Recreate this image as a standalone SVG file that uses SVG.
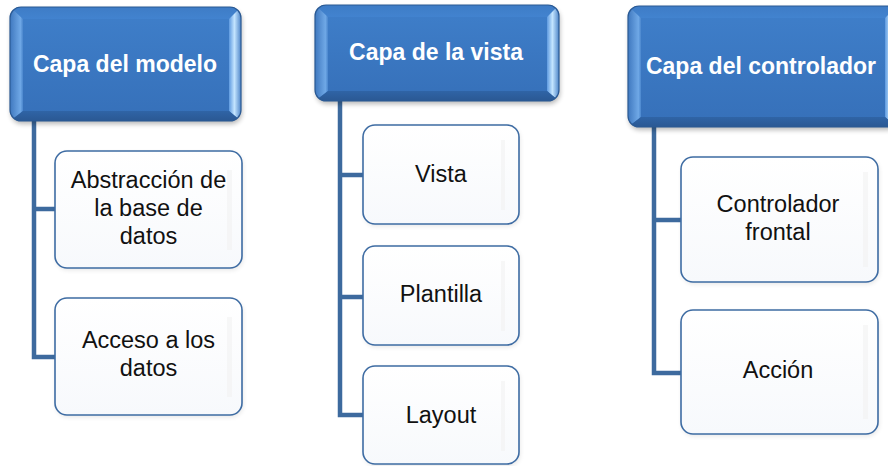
<svg xmlns="http://www.w3.org/2000/svg" width="888" height="466" viewBox="0 0 888 466">
  <defs>
    <linearGradient id="face" x1="0" y1="0" x2="0" y2="1">
      <stop offset="0" stop-color="#3f7fca"/>
      <stop offset="1" stop-color="#3670b9"/>
    </linearGradient>
    <linearGradient id="bvTop" x1="0" y1="0" x2="0" y2="1">
      <stop offset="0" stop-color="#3e7cc6"/>
      <stop offset="1" stop-color="#4283cf"/>
    </linearGradient>
    <linearGradient id="bvLeft" x1="0" y1="0" x2="1" y2="0">
      <stop offset="0" stop-color="#3f78bf"/>
      <stop offset="0.8" stop-color="#6fa8e6"/>
      <stop offset="1" stop-color="#4a86cd"/>
    </linearGradient>
    <linearGradient id="bvRight" x1="0" y1="0" x2="1" y2="0">
      <stop offset="0" stop-color="#5e9ae0"/>
      <stop offset="0.45" stop-color="#c4e5ff"/>
      <stop offset="1" stop-color="#4f86c9"/>
    </linearGradient>
    <linearGradient id="bvBottom" x1="0" y1="0" x2="0" y2="1">
      <stop offset="0" stop-color="#2f64a6"/>
      <stop offset="1" stop-color="#2a5893"/>
    </linearGradient>
    <linearGradient id="childFill" x1="0" y1="0" x2="0" y2="1">
      <stop offset="0" stop-color="#ffffff"/>
      <stop offset="1" stop-color="#f7f9fc"/>
    </linearGradient>
    <filter id="shadow" x="-10%" y="-10%" width="120%" height="130%">
      <feGaussianBlur stdDeviation="2.5"/>
    </filter>
    <clipPath id="c1"><rect x="10" y="7" width="231" height="114" rx="11"/></clipPath>
    <clipPath id="c2"><rect x="315" y="5" width="244" height="96" rx="11"/></clipPath>
    <clipPath id="c3"><rect x="628" y="6" width="269" height="121" rx="11"/></clipPath>
  </defs>
  <style>
    .hdr-shadow { fill: #000; opacity: 0.28; filter: url(#shadow); }
    .hdr-out { fill: none; stroke: #2b5a94; stroke-width: 1.2; }
    .hdr-text { font-family: "Liberation Sans", Arial, sans-serif; font-weight: bold; font-size: 23px; fill: #ffffff; text-anchor: middle; }
    .child-shadow { fill: #000; opacity: 0.1; filter: url(#shadow); }
    .child { fill: url(#childFill); stroke: #3e6ca3; stroke-width: 1.6; }
    .strip { fill: #f1f1f1; opacity: 0.6; }
    .child-text { font-family: "Liberation Sans", Arial, sans-serif; font-size: 23.5px; fill: #111111; text-anchor: middle; }
    .conn { fill: none; stroke: #3d6a9e; stroke-width: 4.5; stroke-linejoin: miter; }
  </style>

  <!-- connectors -->
  <g id="connectors">
    <path class="conn" d="M34,121 V357 H56 M34,209 H56"/>
    <path class="conn" d="M340,101 V415 H364 M340,175 H364 M340,297 H364"/>
    <path class="conn" d="M654,127 V373 H682 M654,220 H682"/>
  </g>

  <!-- header 1 -->
  <g id="header-modelo">
    <rect class="hdr-shadow" x="11" y="10" width="231" height="114" rx="11"/>
    <g clip-path="url(#c1)">
      <rect x="10" y="7" width="231" height="114" fill="url(#face)"/>
      <polygon points="10,7 241,7 229,19 23,19" fill="url(#bvTop)"/>
      <polygon points="10,7 23,19 23,111 10,121" fill="url(#bvLeft)"/>
      <polygon points="241,7 241,121 229,111 229,19" fill="url(#bvRight)"/>
      <polygon points="10,121 23,111 229,111 241,121" fill="url(#bvBottom)"/>
    </g>
    <rect class="hdr-out" x="10" y="7" width="231" height="114" rx="11"/>
    <text class="hdr-text" x="125" y="72">Capa del modelo</text>
  </g>

  <!-- header 2 -->
  <g id="header-vista">
    <rect class="hdr-shadow" x="316" y="8" width="244" height="96" rx="11"/>
    <g clip-path="url(#c2)">
      <rect x="315" y="5" width="244" height="96" fill="url(#face)"/>
      <polygon points="315,5 559,5 547,17 328,17" fill="url(#bvTop)"/>
      <polygon points="315,5 328,17 328,91 315,101" fill="url(#bvLeft)"/>
      <polygon points="559,5 559,101 547,91 547,17" fill="url(#bvRight)"/>
      <polygon points="315,101 328,91 547,91 559,101" fill="url(#bvBottom)"/>
    </g>
    <rect class="hdr-out" x="315" y="5" width="244" height="96" rx="11"/>
    <text class="hdr-text" x="436" y="60">Capa de la vista</text>
  </g>

  <!-- header 3 -->
  <g id="header-controlador">
    <rect class="hdr-shadow" x="629" y="9" width="269" height="121" rx="11"/>
    <g clip-path="url(#c3)">
      <rect x="628" y="6" width="269" height="121" fill="url(#face)"/>
      <polygon points="628,6 897,6 885,18 641,18" fill="url(#bvTop)"/>
      <polygon points="628,6 641,18 641,117 628,127" fill="url(#bvLeft)"/>
      <polygon points="897,6 897,127 885,117 885,18" fill="url(#bvRight)"/>
      <polygon points="628,127 641,117 885,117 897,127" fill="url(#bvBottom)"/>
    </g>
    <rect class="hdr-out" x="628" y="6" width="269" height="121" rx="11"/>
    <text class="hdr-text" x="761" y="74">Capa del controlador</text>
  </g>

  <!-- children: model -->
  <g id="node-abstraccion">
    <rect class="child-shadow" x="56" y="153" width="187" height="117" rx="12"/>
    <rect class="child" x="55" y="151" width="187" height="117" rx="12"/>
    <rect class="strip" x="227" y="170" width="5" height="80"/>
    <text class="child-text" x="148.5" y="188">Abstracción de</text>
    <text class="child-text" x="148.5" y="216">la base de</text>
    <text class="child-text" x="148.5" y="244">datos</text>
  </g>
  <g id="node-acceso">
    <rect class="child-shadow" x="56" y="300" width="187" height="117" rx="12"/>
    <rect class="child" x="55" y="298" width="187" height="117" rx="12"/>
    <rect class="strip" x="227" y="317" width="5" height="80"/>
    <text class="child-text" x="148.5" y="348">Acceso a los</text>
    <text class="child-text" x="148.5" y="376">datos</text>
  </g>

  <!-- children: view -->
  <g id="node-vista">
    <rect class="child-shadow" x="364" y="127" width="156" height="99" rx="12"/>
    <rect class="child" x="363" y="125" width="156" height="99" rx="12"/>
    <rect class="strip" x="501" y="140" width="4" height="70"/>
    <text class="child-text" x="441" y="182">Vista</text>
  </g>
  <g id="node-plantilla">
    <rect class="child-shadow" x="364" y="248" width="156" height="99" rx="12"/>
    <rect class="child" x="363" y="246" width="156" height="99" rx="12"/>
    <rect class="strip" x="501" y="261" width="4" height="70"/>
    <text class="child-text" x="441" y="302">Plantilla</text>
  </g>
  <g id="node-layout">
    <rect class="child-shadow" x="364" y="368" width="156" height="98" rx="12"/>
    <rect class="child" x="363" y="366" width="156" height="98" rx="12"/>
    <rect class="strip" x="501" y="381" width="4" height="70"/>
    <text class="child-text" x="441" y="423">Layout</text>
  </g>

  <!-- children: controller -->
  <g id="node-controlador-frontal">
    <rect class="child-shadow" x="682" y="159" width="197" height="125" rx="12"/>
    <rect class="child" x="681" y="157" width="197" height="125" rx="12"/>
    <rect class="strip" x="863" y="172" width="5" height="95"/>
    <text class="child-text" x="778" y="212">Controlador</text>
    <text class="child-text" x="778" y="240">frontal</text>
  </g>
  <g id="node-accion">
    <rect class="child-shadow" x="682" y="312" width="197" height="124" rx="12"/>
    <rect class="child" x="681" y="310" width="197" height="124" rx="12"/>
    <rect class="strip" x="863" y="325" width="5" height="94"/>
    <text class="child-text" x="778" y="378">Acción</text>
  </g>
</svg>
